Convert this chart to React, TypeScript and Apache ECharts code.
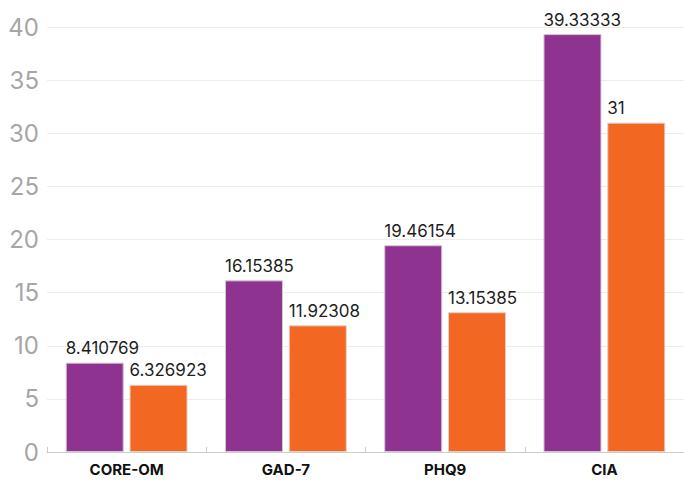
import React, { useEffect, useRef } from "react";
import * as echarts from "echarts";

const categories = ["CORE-OM", "GAD-7", "PHQ9", "CIA"];
const seriesA = [8.410769, 16.15385, 19.46154, 39.33333];
const seriesB = [6.326923, 11.92308, 13.15385, 31];
const yTicks = { min: 0, max: 40, interval: 5 };

const PURPLE = "#8F3391";
const ORANGE = "#F26722";
const FONT = "Inter, 'Noto Sans', sans-serif";

export default function App() {
  const ref = useRef<HTMLDivElement>(null);

  useEffect(() => {
    if (!ref.current) return;
    const chart = echarts.init(ref.current, null, { renderer: "svg" });

    const valueLabel = {
      show: true,
      position: [0, -6] as [number, number],
      verticalAlign: "bottom" as const,
      align: "left" as const,
      color: "#1e1e1e",
      fontSize: 17,
      fontFamily: FONT,
    };

    chart.setOption({
      animation: false,
      backgroundColor: "#ffffff",
      grid: { left: 47, top: 27, bottom: 28, width: 640 },
      xAxis: {
        type: "category",
        data: categories,
        axisLine: { lineStyle: { color: "#cccccc", width: 1 } },
        axisTick: { show: true, inside: true, length: 5, lineStyle: { color: "#cccccc" } },
        axisLabel: {
          color: "#111111",
          fontSize: 15,
          fontWeight: "bold",
          fontFamily: FONT,
          margin: 10,
        },
      },
      yAxis: {
        type: "value",
        min: yTicks.min,
        max: yTicks.max,
        interval: yTicks.interval,
        axisLine: { show: false },
        axisTick: { show: false },
        splitLine: { lineStyle: { color: "#ececec", width: 1 } },
        axisLabel: {
          color: "#a6a6a6",
          fontSize: 24,
          fontWeight: "normal",
          fontFamily: FONT,
          margin: 8,
        },
      },
      series: [
        {
          type: "bar",
          data: seriesA,
          barWidth: 58,
          barGap: "10%",
          itemStyle: { color: PURPLE, borderColor: "#d0c8d0", borderWidth: 1 },
          label: valueLabel,
        },
        {
          type: "bar",
          data: seriesB,
          barWidth: 58,
          itemStyle: { color: ORANGE, borderColor: "#e0d0c8", borderWidth: 1 },
          label: valueLabel,
        },
      ],
    });

    return () => chart.dispose();
  }, []);

  return (
    <div
      ref={ref}
      style={{ position: "fixed", left: 0, top: 0, width: 684, height: 480 }}
    />
  );
}
